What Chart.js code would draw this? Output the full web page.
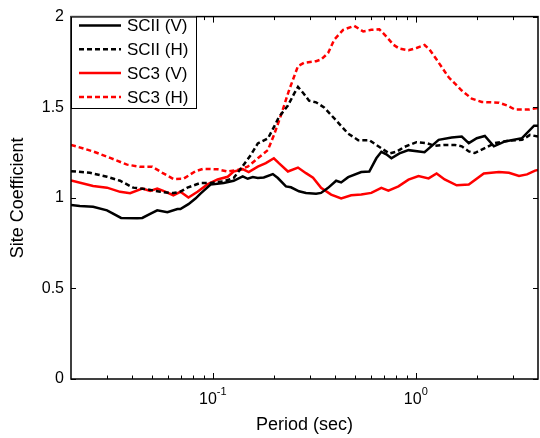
<!DOCTYPE html>
<html>
<head>
<meta charset="utf-8">
<script src="https://cdn.jsdelivr.net/npm/chart.js@4.4.1/dist/chart.umd.min.js"></script>
<style>
  html, body { margin: 0; padding: 0; background: #fff; }
  canvas { display: block; }
</style>
</head>
<body>
<canvas id="site-chart" width="540" height="438"></canvas>
<script>
// values (period in sec, site coefficient)
const sciiVPeriod = [0.02, 0.0221, 0.0257, 0.0301, 0.0353, 0.0424, 0.0449, 0.0491, 0.0532, 0.0597,
    0.0669, 0.0692, 0.0758, 0.0821, 0.0869, 0.0974, 0.113, 0.1266, 0.1403, 0.1485,
    0.1573, 0.1665, 0.1782, 0.1975, 0.2091, 0.2291, 0.2425, 0.2657, 0.2877, 0.3225,
    0.3413, 0.3697, 0.405, 0.4287, 0.4643, 0.5384, 0.5899, 0.639, 0.6765, 0.7161,
    0.7581, 0.8306, 0.9203, 1.104, 1.296, 1.502, 1.684, 1.824, 1.997, 2.188,
    2.425, 2.749, 3.336, 3.826, 4.0];
const sciiVValue = [0.960, 0.955, 0.951, 0.931, 0.889, 0.887, 0.889, 0.911, 0.931, 0.920,
    0.938, 0.938, 0.965, 0.996, 1.023, 1.073, 1.082, 1.094, 1.118, 1.105,
    1.114, 1.109, 1.112, 1.131, 1.109, 1.063, 1.058, 1.036, 1.027, 1.023,
    1.027, 1.055, 1.094, 1.085, 1.114, 1.142, 1.145, 1.218, 1.254, 1.240,
    1.218, 1.245, 1.263, 1.252, 1.320, 1.333, 1.338, 1.302, 1.329, 1.341,
    1.284, 1.311, 1.329, 1.398, 1.398];

const sciiHPeriod = [0.02, 0.0248, 0.0301, 0.0349, 0.0405, 0.0475, 0.0551, 0.0639, 0.0692, 0.0749,
    0.0869, 0.0974, 0.113, 0.1266, 0.1371, 0.1537, 0.1665, 0.1866, 0.1998, 0.2115,
    0.2343, 0.251, 0.2627, 0.2812, 0.2978, 0.3225, 0.3532, 0.405, 0.4643, 0.5203,
    0.5899, 0.6765, 0.7411, 0.8026, 0.8793, 1.008, 1.13, 1.238, 1.387, 1.554,
    1.684, 1.824, 1.952, 2.188, 2.453, 2.877, 3.336, 3.655, 4.0];
const sciiHValue = [1.147, 1.138, 1.116, 1.094, 1.056, 1.047, 1.033, 1.026, 1.034, 1.056,
    1.082, 1.082, 1.091, 1.109, 1.160, 1.236, 1.300, 1.327, 1.390, 1.445,
    1.509, 1.573, 1.612, 1.573, 1.536, 1.527, 1.499, 1.427, 1.354, 1.318,
    1.318, 1.273, 1.245, 1.254, 1.281, 1.307, 1.302, 1.287, 1.292, 1.292,
    1.284, 1.256, 1.247, 1.274, 1.302, 1.316, 1.320, 1.347, 1.338];

const sc3VPeriod = [0.02, 0.0257, 0.0301, 0.0349, 0.0391, 0.0449, 0.0491, 0.0532, 0.057, 0.0639,
    0.0692, 0.0758, 0.084, 0.0941, 0.1055, 0.1183, 0.1266, 0.1403, 0.1502, 0.1665,
    0.1824, 0.1998, 0.2115, 0.2343, 0.2627, 0.2877, 0.3116, 0.3413, 0.3826, 0.4287,
    0.4804, 0.5384, 0.6035, 0.6765, 0.7326, 0.8213, 0.9203, 1.031, 1.156, 1.266,
    1.387, 1.59, 1.824, 2.163, 2.567, 2.877, 3.224, 3.532, 3.869, 4.0];
const sc3VValue = [1.096, 1.065, 1.056, 1.033, 1.025, 1.051, 1.038, 1.051, 1.038, 1.014,
    1.033, 1.002, 1.033, 1.074, 1.101, 1.116, 1.145, 1.158, 1.142, 1.172,
    1.191, 1.218, 1.191, 1.145, 1.167, 1.136, 1.111, 1.055, 1.018, 0.996,
    1.014, 1.018, 1.027, 1.055, 1.040, 1.063, 1.100, 1.120, 1.107, 1.134,
    1.101, 1.069, 1.073, 1.134, 1.142, 1.138, 1.120, 1.129, 1.150, 1.153];

const sc3HPeriod = [0.02, 0.0257, 0.0312, 0.0378, 0.0439, 0.0503, 0.0564, 0.0639, 0.0716, 0.0821,
    0.0899, 0.1055, 0.1183, 0.1325, 0.1485, 0.1665, 0.1866, 0.1998, 0.2163, 0.237,
    0.2627, 0.2812, 0.3225, 0.3413, 0.3697, 0.396, 0.4386, 0.4971, 0.5508, 0.6035,
    0.6612, 0.7161, 0.7755, 0.8306, 0.9203, 1.008, 1.104, 1.169, 1.266, 1.452,
    1.684, 1.887, 2.114, 2.567, 2.812, 3.08, 3.614, 4.0];
const sc3HValue = [1.292, 1.256, 1.220, 1.183, 1.171, 1.171, 1.138, 1.104, 1.105, 1.147,
    1.160, 1.157, 1.145, 1.154, 1.172, 1.218, 1.263, 1.345, 1.454, 1.591,
    1.727, 1.745, 1.754, 1.763, 1.799, 1.872, 1.927, 1.949, 1.918, 1.927,
    1.930, 1.890, 1.845, 1.823, 1.814, 1.827, 1.843, 1.818, 1.763, 1.665,
    1.592, 1.547, 1.529, 1.525, 1.510, 1.487, 1.487, 1.496];

const seriesLabels = ['SCII (V)', 'SCII (H)', 'SC3 (V)', 'SC3 (H)'];
const yTicks = [0, 0.5, 1, 1.5, 2];
const xMajorTicks = [0.1, 1];
const xMajorLabels = ['-1', '0'];
const xMinorTicks = [0.03, 0.04, 0.05, 0.06, 0.07, 0.08, 0.09, 0.2, 0.3, 0.4, 0.5, 0.6, 0.7, 0.8, 0.9, 2, 3];

const FONT = '"Liberation Sans", Arial, sans-serif';
const DASH = [5, 3];

function toPoints(periods, values) {
    return periods.map((p, i) => ({ x: p, y: values[i] }));
}

function makeDataset(label, periods, values, color, dashed) {
    return {
        label,
        data: toPoints(periods, values),
        borderColor: color,
        borderWidth: 2.5,
        borderDash: dashed ? DASH : [],
        pointRadius: 0,
        tension: 0,
        fill: false
    };
}

// box, inward ticks, x tick labels with exponent and the in-plot legend
const matlabAxes = {
    id: 'matlabAxes',
    afterDraw(chart) {
        const { ctx, chartArea: a, scales: { x, y } } = chart;
        ctx.save();
        ctx.strokeStyle = '#000';
        ctx.lineWidth = 1;

        ctx.beginPath();
        yTicks.forEach(v => {
            const py = Math.round(y.getPixelForValue(v)) + 0.5;
            ctx.moveTo(a.left, py); ctx.lineTo(a.left + 5, py);
            ctx.moveTo(a.right, py); ctx.lineTo(a.right - 5, py);
        });
        xMajorTicks.forEach(v => {
            const px = Math.round(x.getPixelForValue(v)) + 0.5;
            ctx.moveTo(px, a.bottom); ctx.lineTo(px, a.bottom - 6);
            ctx.moveTo(px, a.top); ctx.lineTo(px, a.top + 6);
        });
        xMinorTicks.forEach(v => {
            const px = Math.round(x.getPixelForValue(v)) + 0.5;
            ctx.moveTo(px, a.bottom); ctx.lineTo(px, a.bottom - 3.5);
            ctx.moveTo(px, a.top); ctx.lineTo(px, a.top + 3.5);
        });
        ctx.stroke();

        ctx.lineWidth = 1.5;
        ctx.strokeRect(a.left, a.top, a.right - a.left, a.bottom - a.top);

        // x tick labels: 10 with a raised exponent
        ctx.fillStyle = '#000';
        ctx.textBaseline = 'middle';
        ctx.textAlign = 'left';
        xMajorTicks.forEach((v, i) => {
            const px = x.getPixelForValue(v);
            ctx.font = '16px ' + FONT;
            const w1 = ctx.measureText('10').width;
            ctx.font = '11px ' + FONT;
            const w2 = ctx.measureText(xMajorLabels[i]).width;
            const start = px - (w1 + w2) / 2;
            ctx.font = '16px ' + FONT;
            ctx.fillText('10', start, a.bottom + 21);
            ctx.font = '11px ' + FONT;
            ctx.fillText(xMajorLabels[i], start + w1, a.bottom + 13);
        });

        // legend
        const box = { left: a.left, top: a.top, right: 196, bottom: 108 };
        ctx.fillStyle = '#fff';
        ctx.fillRect(box.left, box.top, box.right - box.left, box.bottom - box.top);
        ctx.lineWidth = 1;
        ctx.strokeRect(box.left + 0.5, box.top + 0.5, box.right - box.left, box.bottom - box.top);
        ctx.font = '17px ' + FONT;
        chart.data.datasets.forEach((ds, i) => {
            const cy = 25.5 + i * 23.8;
            ctx.beginPath();
            ctx.strokeStyle = ds.borderColor;
            ctx.lineWidth = ds.borderWidth;
            ctx.setLineDash(ds.borderDash);
            ctx.moveTo(79, cy); ctx.lineTo(121, cy);
            ctx.stroke();
            ctx.setLineDash([]);
            ctx.fillStyle = '#000';
            ctx.fillText(ds.label, 127, cy + 1);
        });
        ctx.restore();
    }
};

const chart = new Chart(document.getElementById('site-chart').getContext('2d'), {
    type: 'line',
    data: {
        datasets: [
            makeDataset(seriesLabels[0], sciiVPeriod, sciiVValue, '#000000', false),
            makeDataset(seriesLabels[1], sciiHPeriod, sciiHValue, '#000000', true),
            makeDataset(seriesLabels[2], sc3VPeriod, sc3VValue, '#ff0000', false),
            makeDataset(seriesLabels[3], sc3HPeriod, sc3HValue, '#ff0000', true)
        ]
    },
    options: {
        responsive: false,
        animation: false,
        devicePixelRatio: 1,
        layout: { padding: { top: 12, right: 2, left: 0, bottom: 0 } },
        plugins: { legend: { display: false }, tooltip: { enabled: false } },
        scales: {
            x: {
                type: 'logarithmic',
                min: 0.02,
                max: 4,
                grid: { display: false, drawTicks: false },
                border: { display: false },
                ticks: { display: false },
                title: {
                    display: true,
                    text: 'Period (sec)',
                    color: '#000',
                    font: { family: FONT, size: 18 },
                    padding: { top: 0, bottom: 2 }
                },
                afterFit: s => { s.height = 59; }
            },
            y: {
                min: 0,
                max: 2,
                grid: { display: false, drawTicks: false },
                border: { display: false },
                ticks: {
                    stepSize: 0.5,
                    padding: 7,
                    color: '#000',
                    font: { family: FONT, size: 16 },
                    callback: v => String(v)
                },
                title: {
                    display: true,
                    text: 'Site Coefficient',
                    color: '#000',
                    font: { family: FONT, size: 18 },
                    padding: { top: 7, bottom: 0 }
                },
                afterFit: s => { s.width = 71; }
            }
        }
    },
    plugins: [matlabAxes]
});
</script>
</body>
</html>
